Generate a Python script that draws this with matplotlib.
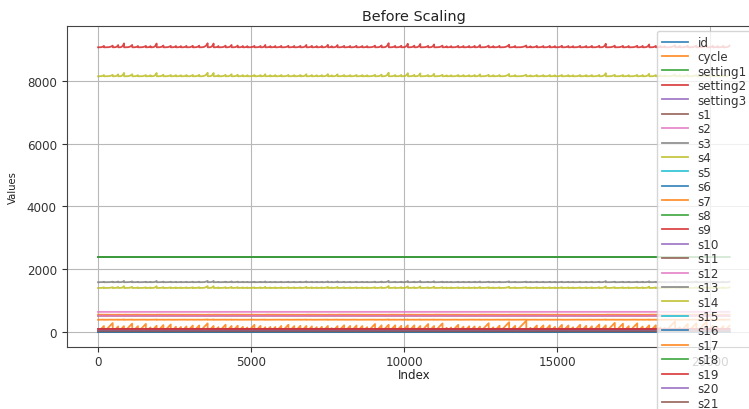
import numpy as np
import pandas as pd
import matplotlib
matplotlib.use("Agg")
import matplotlib.pyplot as plt

# ---- data ----
columns = ['id', 'cycle', 'setting1', 'setting2', 'setting3'] + [f's{i}' for i in range(1, 22)]

# run length (cycles) of each of the 100 engines
engine_lengths = [192, 287, 179, 189, 269, 188, 259, 150, 201, 222,
                  240, 170, 163, 180, 207, 209, 276, 195, 158, 234,
                  195, 202, 168, 147, 230, 199, 156, 165, 163, 194,
                  234, 191, 200, 195, 181, 158, 170, 194, 128, 188,
                  216, 196, 207, 192, 158, 256, 214, 231, 215, 198,
                  213, 213, 195, 257, 193, 275, 137, 147, 231, 172,
                  185, 180, 174, 283, 153, 202, 313, 199, 362, 137,
                  208, 213, 213, 166, 229, 210, 154, 231, 199, 185,
                  240, 214, 293, 267, 188, 278, 178, 213, 217, 154,
                  135, 341, 155, 258, 283, 336, 202, 156, 185, 200]

# end-of-life severity of each engine (relative height of the s9 / s14 spikes)
engine_severity = [0.60, 0.70, 0.95, 1.65, 1.00, 0.55, 0.60, 0.50, 1.60, 0.75,
                   0.60, 0.55, 0.50, 0.60, 0.65, 0.70, 1.70, 1.60, 0.55, 0.70,
                   1.00, 0.75, 0.55, 0.50, 0.60, 0.55, 1.00, 0.50, 0.55, 0.60,
                   0.65, 0.55, 0.60, 1.00, 0.60, 0.50, 0.55, 1.05, 0.45, 0.95,
                   0.60, 0.55, 0.65, 0.55, 0.50, 0.70, 0.80, 1.75, 0.60, 0.65,
                   1.50, 0.70, 1.40, 0.60, 1.20, 0.70, 0.45, 0.50, 0.60, 0.55,
                   0.55, 0.60, 0.95, 0.70, 0.50, 0.60, 1.10, 0.55, 0.75, 0.45,
                   0.60, 0.55, 0.60, 0.50, 0.65, 0.55, 0.50, 0.60, 0.55, 0.60,
                   0.65, 1.50, 0.70, 0.60, 0.55, 0.65, 0.60, 1.20, 0.60, 0.50,
                   0.45, 0.80, 0.55, 0.65, 0.70, 0.75, 0.60, 0.50, 0.60, 0.65]

# healthy level of each setting / sensor column
base_level = {'setting1': 0.0, 'setting2': 0.0, 'setting3': 100.0,
              's1': 518.67, 's2': 642.4, 's3': 1586.0, 's4': 1403.0, 's5': 14.62,
              's6': 21.61, 's7': 553.9, 's8': 2388.05, 's9': 9062.0, 's10': 1.3,
              's11': 47.4, 's12': 522.0, 's13': 2388.05, 's14': 8140.0, 's15': 8.42,
              's16': 0.03, 's17': 392.0, 's18': 2388.0, 's19': 100.0, 's20': 38.9,
              's21': 23.34}

# shift of each column at failure (for severity 1)
end_shift = {'s2': 1.8, 's3': 25.0, 's4': 35.0, 's7': -4.0, 's8': 0.15, 's9': 75.0,
             's11': 0.9, 's12': -3.5, 's13': 0.15, 's14': 65.0, 's15': 0.15,
             's17': 6.0, 's20': -0.7, 's21': -0.45}

# ---- build the table ----
ids, cycles, wear = [], [], []
for k, (L, sev) in enumerate(zip(engine_lengths, engine_severity), start=1):
    c = np.arange(1, L + 1)
    ids.append(np.full(L, k))
    cycles.append(c)
    wear.append(sev * (c / L) ** 4)
ids = np.concatenate(ids)
cycles = np.concatenate(cycles)
wear = np.concatenate(wear)

data = {'id': ids, 'cycle': cycles}
for col in columns[2:]:
    data[col] = base_level[col] + end_shift.get(col, 0.0) * wear
df = pd.DataFrame(data, columns=columns)

# ---- plot ----
W, H = 749, 410
fig = plt.figure(figsize=(W / 100, H / 100), dpi=100)
ax = fig.add_axes([66.5 / W, 1 - 348 / H, (761 - 66.5) / W, (348 - 27) / H])

colors = plt.rcParams['axes.prop_cycle'].by_key()['color']
for i, col in enumerate(columns):
    ax.plot(df.index, df[col], color=colors[i % len(colors)], lw=1.3,
            alpha=0.85, label=col)

ax.set_ylim(-475, 9740)
ax.set_yticks([0, 2000, 4000, 6000, 8000])
ax.set_xticks([0, 5000, 10000, 15000, 20000])
ax.tick_params(labelsize=8.6, colors='#333333')
ax.tick_params(axis='x', pad=2)
for sp in ax.spines.values():
    sp.set_color('#444444')
ax.grid(True, color='#b8b8b8', lw=0.8)
ax.set_title('Before Scaling', fontsize=10.4, pad=4, color='#222222')
ax.set_xlabel('Index', fontsize=8.6, labelpad=0, color='#222222')
ax.set_ylabel('Values', fontsize=7.2, labelpad=6, color='#222222')

leg = ax.legend(loc='upper left', bbox_to_anchor=(657 / W, 1 - 32 / H),
                bbox_transform=fig.transFigure, borderaxespad=0,
                fontsize=8.6, labelspacing=0.12, handlelength=2.2,
                handletextpad=0.8, framealpha=0.8)
for t in leg.get_texts():
    t.set_color('#333333')

fig.savefig('out.png', dpi=100)
